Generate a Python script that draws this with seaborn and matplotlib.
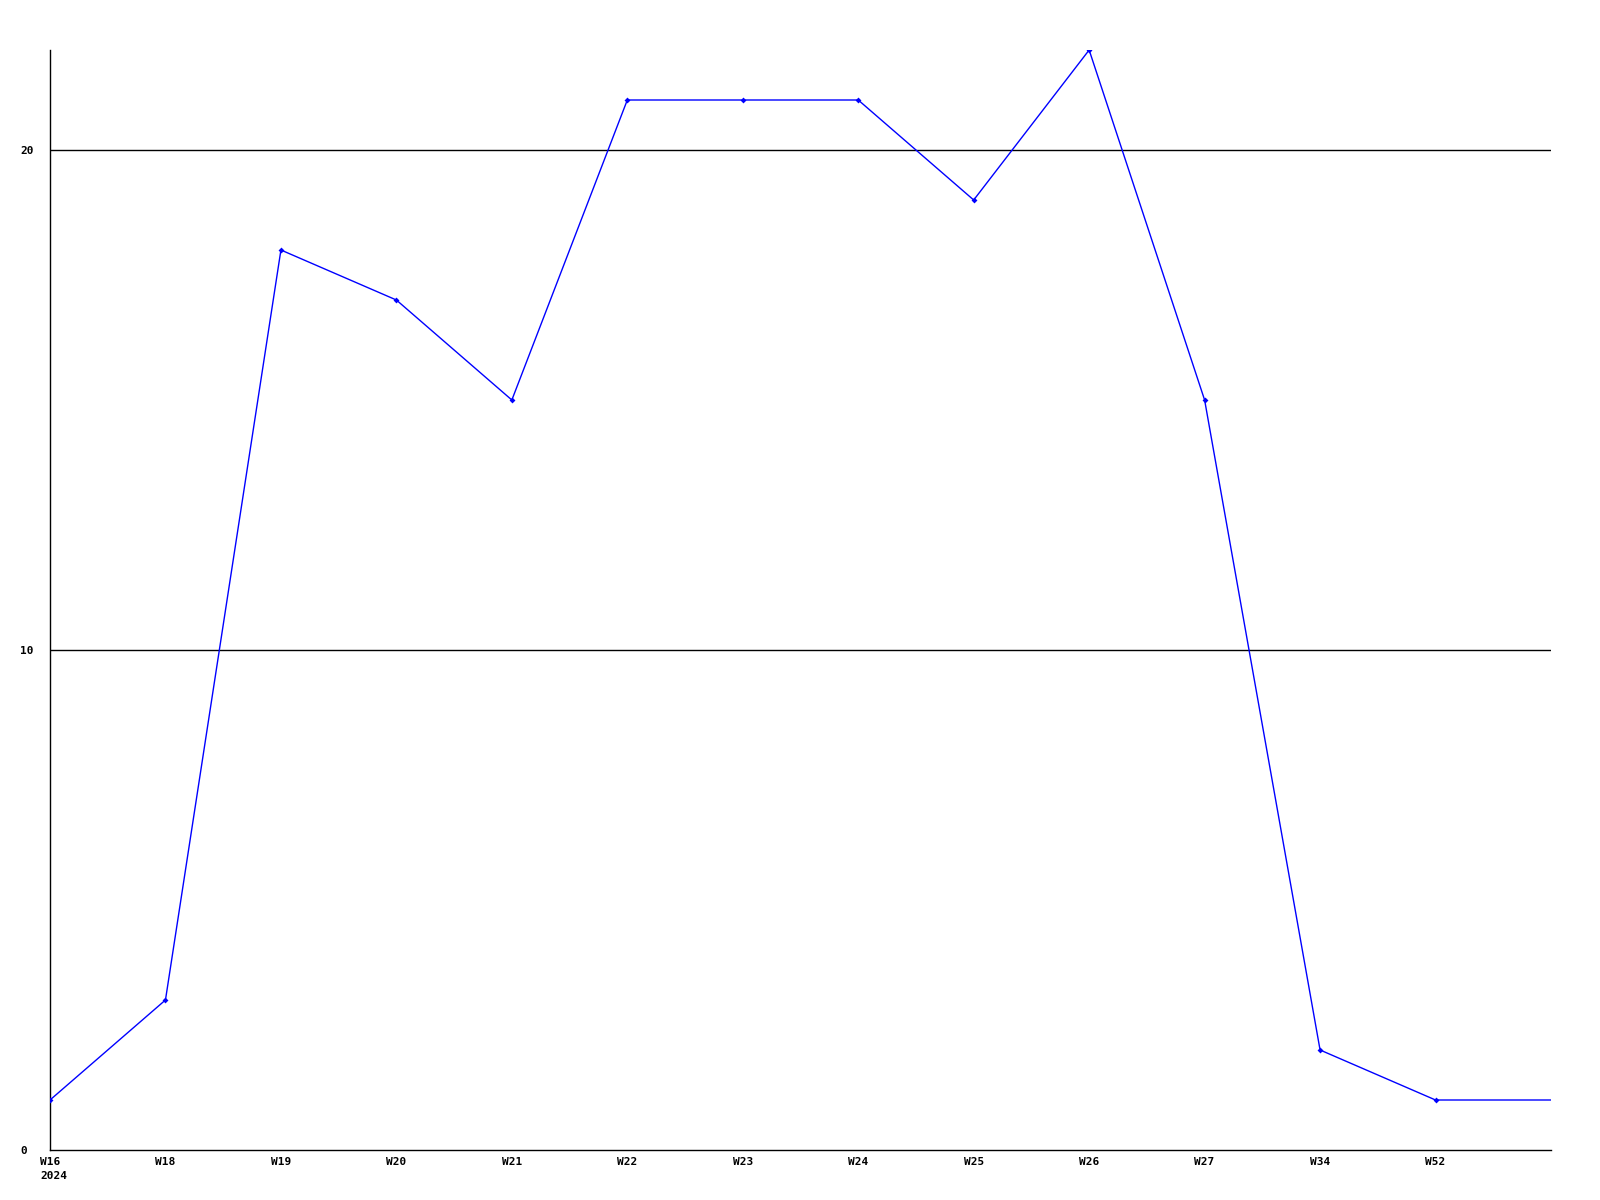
import pandas as pd
import seaborn as sns
import matplotlib.pyplot as plt

# ------------------------------------------------------------
# Data
# ------------------------------------------------------------
weeks = ["W16", "W18", "W19", "W20", "W21", "W22", "W23", "W24",
         "W25", "W26", "W27", "W34", "W52"]
counts = [1, 3, 18, 17, 15, 21, 21, 21, 19, 22, 15, 2, 1]
# last value carried on to the right edge of the chart
tail_count = 1
year_label = "2024"
y_ticks = [0, 10, 20]

df = pd.DataFrame({"pos": list(range(len(weeks) + 1)),
                   "count": counts + [tail_count]})

# ------------------------------------------------------------
# Plot
# ------------------------------------------------------------
sns.set_style("white")
plt.rcParams["font.family"] = ["DejaVu Sans Mono"]
plt.rcParams["text.color"] = "black"
plt.rcParams["xtick.color"] = "black"
plt.rcParams["ytick.color"] = "black"

fig = plt.figure(figsize=(16, 12), dpi=100)
ax = fig.add_axes([50 / 1600, 50 / 1200, 1501 / 1600, 1100 / 1200])

for y in y_ticks[1:]:
    ax.axhline(y, color="black", lw=1, zorder=1)

sns.lineplot(data=df, x="pos", y="count", ax=ax, color="#0000ff", lw=1,
             marker="D", markersize=3, markeredgewidth=0,
             markevery=list(range(len(weeks))), zorder=3)

ax.set_xlim(0, len(weeks))
ax.set_ylim(0, 22)
ax.set_xticks(range(len(weeks)))
ax.set_xticklabels(weeks)
ax.set_yticks(y_ticks)
ax.set_yticklabels([str(t) for t in y_ticks])
ax.tick_params(axis="both", length=0, labelsize=8, labelcolor="black")
ax.tick_params(axis="x", pad=5)
ax.tick_params(axis="y", pad=21.5)
for lbl in ax.get_xticklabels() + ax.get_yticklabels():
    lbl.set_fontweight("bold")
for lbl in ax.get_yticklabels():
    lbl.set_horizontalalignment("left")

ax.annotate(year_label, xy=(0, 0), xycoords=("data", "axes fraction"),
            xytext=(-10, -21), textcoords="offset pixels",
            ha="left", va="top", fontsize=8, fontweight="bold", color="black")

ax.set_xlabel("")
ax.set_ylabel("")
for side in ["top", "right"]:
    ax.spines[side].set_visible(False)
for side in ["left", "bottom"]:
    ax.spines[side].set_color("black")
    ax.spines[side].set_linewidth(1)

fig.savefig("out.png", dpi=100)
